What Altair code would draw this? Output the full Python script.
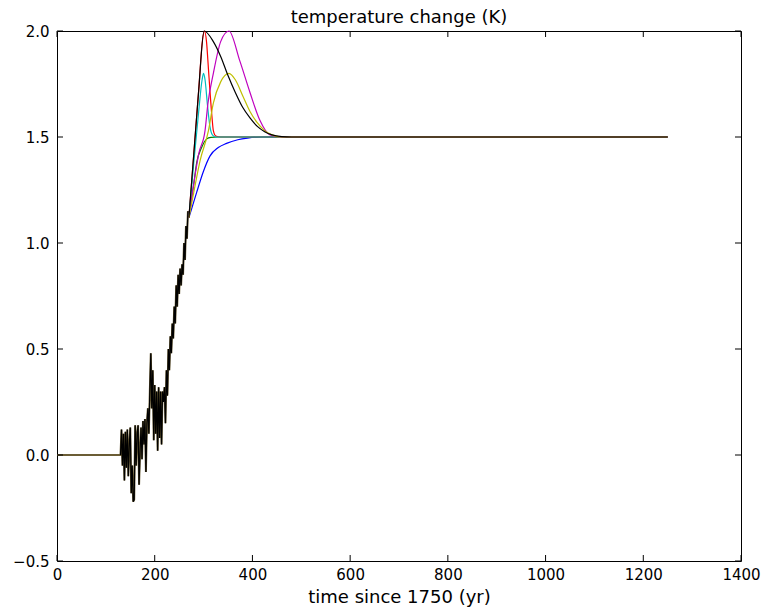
import altair as alt
import pandas as pd

# ---- data ----
hist_years = [0, 130, 132, 134, 136, 138, 140, 142, 144, 146, 148, 150, 152, 154, 156, 158,
              160, 162, 164, 166, 168, 170, 172, 174, 176, 178, 180, 182, 184, 186, 188,
              190, 192, 194, 196, 198, 200, 202, 204, 206, 208, 210, 212, 214, 216, 218,
              220, 222, 224, 226, 228, 230, 232, 234, 236, 238, 240, 242, 244, 246, 248,
              250, 252, 254, 256, 258, 260, 262, 264, 266, 268, 270]
hist_vals = [0.0, 0.0, 0.12, -0.05, 0.10, -0.12, 0.11, -0.06, 0.12, -0.10, 0.05, 0.13, -0.18,
             -0.05, -0.22, -0.21, 0.14, -0.05, 0.10, 0.14, -0.14, 0.02, 0.13, -0.02, 0.16,
             0.05, 0.17, -0.08, 0.15, 0.22, 0.10, 0.30, 0.48, 0.22, 0.40, 0.07, 0.33, 0.10,
             0.30, 0.02, 0.32, 0.08, 0.30, 0.05, 0.30, 0.25, 0.32, 0.15, 0.40, 0.28, 0.50,
             0.40, 0.56, 0.48, 0.62, 0.55, 0.70, 0.62, 0.80, 0.70, 0.85, 0.76, 0.88, 0.80,
             0.90, 0.85, 1.00, 0.92, 1.08, 1.02, 1.15, 1.12]

blue_years = [270, 278, 286, 300, 313, 330, 347, 370, 390, 420, 1250]
blue_vals = [1.12, 1.18, 1.24, 1.34, 1.41, 1.45, 1.47, 1.487, 1.495, 1.5, 1.5]

green_years = [270, 280, 286, 296, 306, 315, 330, 1250]
green_vals = [1.12, 1.28, 1.38, 1.45, 1.49, 1.498, 1.5, 1.5]

red_years = [270, 280, 290, 298, 302, 306, 310, 313, 317, 320, 325, 335, 1250]
red_vals = [1.12, 1.42, 1.72, 1.96, 2.0, 1.95, 1.82, 1.72, 1.60, 1.53, 1.505, 1.5, 1.5]

cyan_years = [270, 280, 290, 297, 300, 303, 308, 313, 318, 325, 1250]
cyan_vals = [1.12, 1.38, 1.62, 1.77, 1.80, 1.77, 1.65, 1.55, 1.51, 1.5, 1.5]

magenta_years = [270, 280, 290, 303, 309, 320, 335, 352, 374, 395, 415, 436, 460, 1250]
magenta_vals = [1.12, 1.28, 1.42, 1.53, 1.66, 1.80, 1.95, 2.0, 1.86, 1.71, 1.58, 1.51, 1.5, 1.5]

yellow_years = [270, 280, 293, 310, 320, 335, 352, 365, 381, 395, 409, 425, 440, 460, 1250]
yellow_vals = [1.12, 1.24, 1.39, 1.53, 1.66, 1.76, 1.80, 1.77, 1.69, 1.62, 1.57, 1.53, 1.51, 1.5, 1.5]

black_years = [270, 280, 290, 301, 320, 335, 350, 365, 380, 395, 410, 425, 440, 460, 480, 1250]
black_vals = [1.12, 1.42, 1.72, 2.0, 1.95, 1.88, 1.79, 1.71, 1.64, 1.59, 1.55, 1.525, 1.51, 1.502, 1.5, 1.5]

x_ticks = [0, 200, 400, 600, 800, 1000, 1200, 1400]
y_ticks = [-0.5, 0.0, 0.5, 1.0, 1.5, 2.0]

series = [
    (blue_years, blue_vals, "#0000ff"),
    (green_years, green_vals, "#008000"),
    (red_years, red_vals, "#ff0000"),
    (cyan_years, cyan_vals, "#00bfbf"),
    (magenta_years, magenta_vals, "#bf00bf"),
    (yellow_years, yellow_vals, "#bfbf00"),
    (black_years, black_vals, "#000000"),
]

W, H = 684, 530
xscale = alt.Scale(domain=[0, 1400], nice=False, zero=False)
yscale = alt.Scale(domain=[-0.5, 2.0], nice=False, zero=False)

xax = alt.Axis(values=x_ticks, format="d", title="time since 1750 (yr)", labelPadding=6,
               titlePadding=6, labelFlush=False, labelOverlap=False)
yax = alt.Axis(values=y_ticks, format=".1f", title=None, labelPadding=8,
               labelFlush=False, labelOverlap=False)

layers = []

hist_df = pd.DataFrame({"t": hist_years, "v": hist_vals})
layers.append(
    alt.Chart(hist_df).mark_line(color="#6b5d35", strokeWidth=2.0).encode(
        x=alt.X("t:Q", scale=xscale, axis=xax),
        y=alt.Y("v:Q", scale=yscale, axis=yax),
    )
)
layers.append(
    alt.Chart(hist_df[hist_df["t"] >= 130]).mark_line(color="#000000", strokeWidth=1.2).encode(
        x=alt.X("t:Q", scale=xscale),
        y=alt.Y("v:Q", scale=yscale),
    )
)

for yrs, vals, col in series:
    df = pd.DataFrame({"t": yrs, "v": vals})
    layers.append(
        alt.Chart(df).mark_line(color=col, strokeWidth=1.2, interpolate="monotone").encode(
            x=alt.X("t:Q", scale=xscale),
            y=alt.Y("v:Q", scale=yscale),
        )
    )

# inward tick marks on all four sides
xt = pd.DataFrame({"t": x_ticks})
yt = pd.DataFrame({"v": y_ticks})
TL = 6
layers.append(alt.Chart(xt).mark_rule(color="black", strokeWidth=1).encode(
    x=alt.X("t:Q", scale=xscale), y=alt.value(H), y2=alt.value(H - TL)))
layers.append(alt.Chart(xt).mark_rule(color="black", strokeWidth=1).encode(
    x=alt.X("t:Q", scale=xscale), y=alt.value(0), y2=alt.value(TL)))
layers.append(alt.Chart(yt).mark_rule(color="black", strokeWidth=1).encode(
    y=alt.Y("v:Q", scale=yscale), x=alt.value(0), x2=alt.value(TL)))
layers.append(alt.Chart(yt).mark_rule(color="black", strokeWidth=1).encode(
    y=alt.Y("v:Q", scale=yscale), x=alt.value(W), x2=alt.value(W - TL)))

chart = alt.layer(*layers).properties(
    width=W, height=H,
    title=alt.TitleParams("temperature change (K)", fontSize=18, font="DejaVu Sans",
                          fontWeight="normal", color="black", anchor="middle", offset=-3),
    autosize=alt.AutoSizeParams(type="none"),
    padding={"left": 57, "top": 31, "right": 26, "bottom": 52},
    background="white",
).configure_view(
    stroke="black", strokeWidth=1
).configure_axis(
    domain=False, ticks=False, grid=False,
    labelFont="DejaVu Sans", labelFontSize=15, labelColor="black",
    titleFont="DejaVu Sans", titleFontSize=18, titleFontWeight="normal", titleColor="black",
)

chart.save("out.html", embed_options={"renderer": "svg", "actions": False})
